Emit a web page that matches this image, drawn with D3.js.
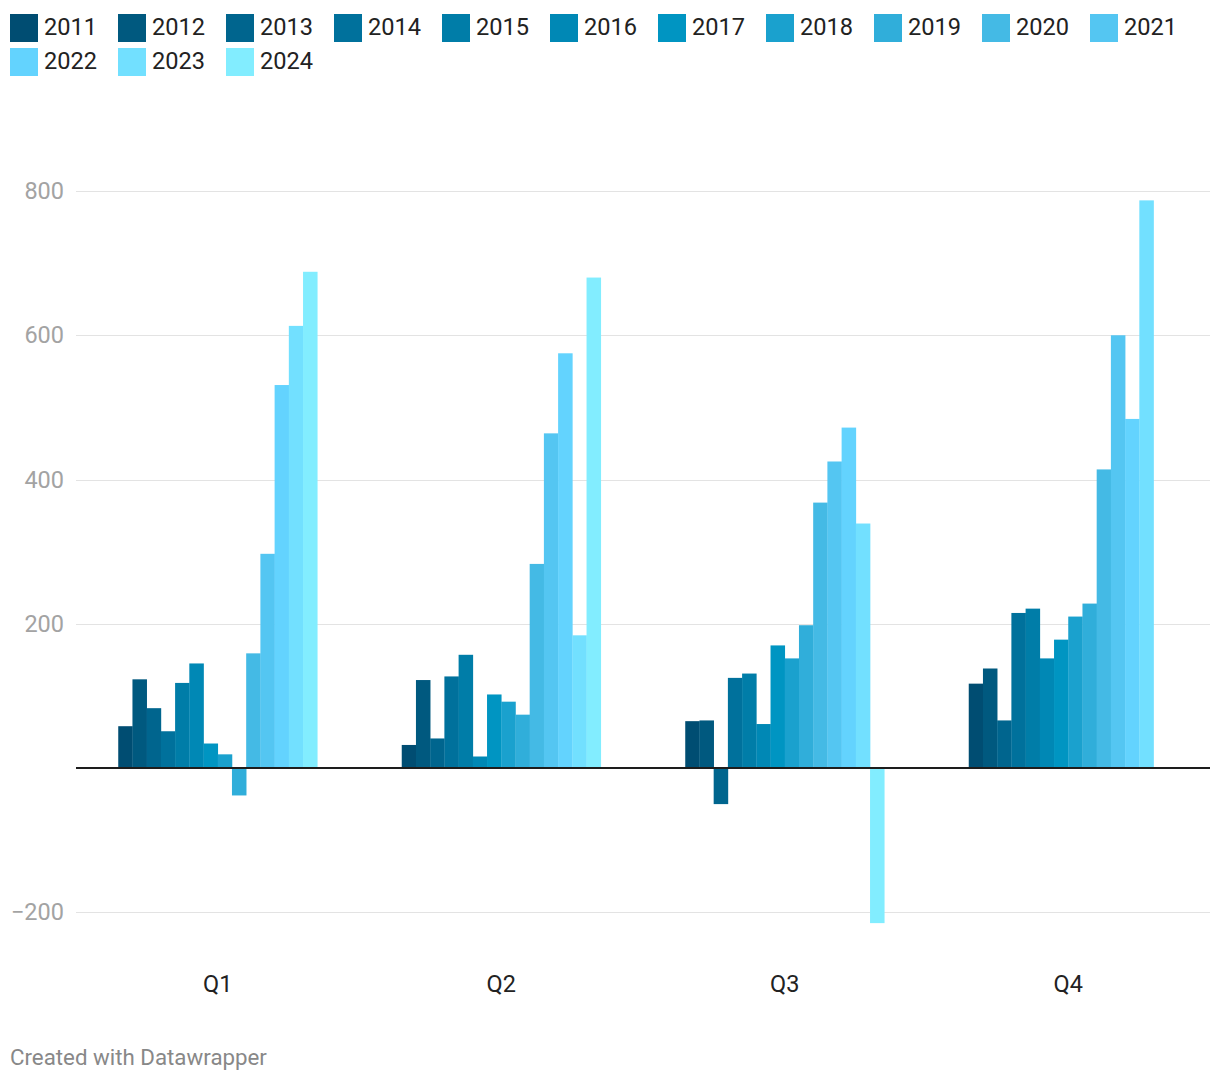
<!DOCTYPE html>
<html>
<head>
<meta charset="utf-8">
<script src="https://cdn.jsdelivr.net/npm/d3@7"></script>
<style>
  html, body { margin: 0; padding: 0; background: #fff; }
  svg { display: block; font-family: Roboto, "Noto Sans", sans-serif; }
</style>
</head>
<body>
<svg id="chart" width="1220" height="1082"></svg>
<script>
const quarters = ["Q1", "Q2", "Q3", "Q4"];
const years = ["2011","2012","2013","2014","2015","2016","2017","2018","2019","2020","2021","2022","2023","2024"];
const colors = ["#004d72","#00597f","#00658e","#00719c","#007da8","#0088b5","#0095c2","#1aa1ce","#30aeda","#44bae5","#54c6f2","#63d3fe","#72e0ff","#82edff"];
// values by year, per quarter Q1..Q4
const v2011 = [58, 32, 65, 117];
const v2012 = [123, 122, 66, 138];
const v2013 = [83, 41, -50, 66];
const v2014 = [51, 127, 125, 215];
const v2015 = [118, 157, 131, 221];
const v2016 = [145, 16, 61, 152];
const v2017 = [34, 102, 170, 178];
const v2018 = [19, 92, 152, 210];
const v2019 = [-38, 74, 198, 228];
const v2020 = [159, 283, 368, 414];
const v2021 = [297, 464, 425, 600];
const v2022 = [531, 575, 472, 484];
const v2023 = [613, 184, 339, 787];
const v2024 = [688, 680, -215, null];
const series = [v2011,v2012,v2013,v2014,v2015,v2016,v2017,v2018,v2019,v2020,v2021,v2022,v2023,v2024];
const yTicks = [-200, 200, 400, 600, 800];

const svg = d3.select("#chart");

// Legend
const legend = svg.append("g");
years.forEach((yr, i) => {
  const row = i < 11 ? 0 : 1;
  const col = i < 11 ? i : i - 11;
  const g = legend.append("g").attr("transform", `translate(${10 + col * 108},${14 + row * 34})`);
  g.append("rect").attr("width", 28).attr("height", 28).attr("fill", colors[i]);
  g.append("text").attr("x", 34).attr("y", 13).attr("dominant-baseline", "central")
    .attr("font-size", 23.6).attr("fill", "#222").text(yr);
});

const left = 76, right = 1210;
const x0 = d3.scaleBand().domain(quarters).range([left, right]).paddingInner(0.298).paddingOuter(0.149);
const x1 = d3.scaleBand().domain(years).range([0, x0.bandwidth()]);
const y = d3.scaleLinear().domain([-200, 800]).range([912.3, 191]);

// Gridlines
svg.append("g").selectAll("line").data(yTicks).join("line")
  .attr("x1", left).attr("x2", right)
  .attr("y1", d => Math.round(y(d)) + 0.5).attr("y2", d => Math.round(y(d)) + 0.5)
  .attr("stroke", "#e3e3e3").attr("stroke-width", 1.2);

svg.append("g").selectAll("text").data(yTicks).join("text")
  .attr("x", 64).attr("y", d => y(d)).attr("text-anchor", "end").attr("dominant-baseline", "central")
  .attr("font-size", 23.5).attr("fill", "#a3a3a3")
  .text(d => d < 0 ? "\u2212" + Math.abs(d) : d);

// Bars
const barData = [];
quarters.forEach((q, qi) => {
  years.forEach((yr, si) => {
    const v = series[si][qi];
    if (v !== null && v !== undefined) barData.push({ q, yr, v, c: colors[si] });
  });
});
svg.append("g").selectAll("rect").data(barData).join("rect")
  .attr("x", d => x0(d.q) + x1(d.yr))
  .attr("width", x1.bandwidth() + 0.3)
  .attr("y", d => Math.min(y(d.v), y(0)))
  .attr("height", d => Math.abs(y(d.v) - y(0)))
  .attr("fill", d => d.c);

// Baseline
svg.append("line").attr("x1", left).attr("x2", right)
  .attr("y1", y(0)).attr("y2", y(0)).attr("stroke", "#1d1d1d").attr("stroke-width", 2);

// X labels
svg.append("g").selectAll("text").data(quarters).join("text")
  .attr("x", d => x0(d) + x0.bandwidth() / 2).attr("y", 984)
  .attr("text-anchor", "middle").attr("dominant-baseline", "central")
  .attr("font-size", 23.5).attr("fill", "#222").text(d => d);

// Footer
svg.append("text").attr("x", 10).attr("y", 1057).attr("dominant-baseline", "central")
  .attr("font-size", 22.3).attr("fill", "#888").text("Created with Datawrapper");
</script>
</body>
</html>
